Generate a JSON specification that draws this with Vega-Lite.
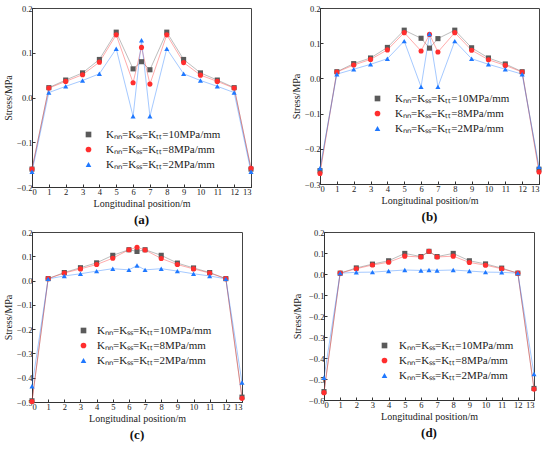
{
  "$schema": "https://vega.github.io/schema/vega-lite/v6.json",
  "padding": {"left": 3, "top": 3, "right": 3, "bottom": 0},
  "data": {
    "values": [
      {"p":"a","k":"10","x":0,"y":-0.16},{"p":"a","k":"10","x":1,"y":0.022},{"p":"a","k":"10","x":2,"y":0.039},{"p":"a","k":"10","x":3,"y":0.055},{"p":"a","k":"10","x":4,"y":0.085},{"p":"a","k":"10","x":5,"y":0.146},{"p":"a","k":"10","x":6,"y":0.064},{"p":"a","k":"10","x":6.5,"y":0.080},{"p":"a","k":"10","x":7,"y":0.062},{"p":"a","k":"10","x":8,"y":0.146},{"p":"a","k":"10","x":9,"y":0.085},{"p":"a","k":"10","x":10,"y":0.055},{"p":"a","k":"10","x":11,"y":0.039},{"p":"a","k":"10","x":12,"y":0.022},{"p":"a","k":"10","x":13,"y":-0.16},
      {"p":"a","k":"8","x":0,"y":-0.16},{"p":"a","k":"8","x":1,"y":0.021},{"p":"a","k":"8","x":2,"y":0.036},{"p":"a","k":"8","x":3,"y":0.051},{"p":"a","k":"8","x":4,"y":0.079},{"p":"a","k":"8","x":5,"y":0.140},{"p":"a","k":"8","x":6,"y":0.033},{"p":"a","k":"8","x":6.5,"y":0.112},{"p":"a","k":"8","x":7,"y":0.030},{"p":"a","k":"8","x":8,"y":0.140},{"p":"a","k":"8","x":9,"y":0.078},{"p":"a","k":"8","x":10,"y":0.050},{"p":"a","k":"8","x":11,"y":0.036},{"p":"a","k":"8","x":12,"y":0.021},{"p":"a","k":"8","x":13,"y":-0.158},
      {"p":"a","k":"2","x":0,"y":-0.166},{"p":"a","k":"2","x":1,"y":0.011},{"p":"a","k":"2","x":2,"y":0.025},{"p":"a","k":"2","x":3,"y":0.038},{"p":"a","k":"2","x":4,"y":0.053},{"p":"a","k":"2","x":5,"y":0.109},{"p":"a","k":"2","x":6,"y":-0.042},{"p":"a","k":"2","x":6.5,"y":0.128},{"p":"a","k":"2","x":7,"y":-0.042},{"p":"a","k":"2","x":8,"y":0.109},{"p":"a","k":"2","x":9,"y":0.053},{"p":"a","k":"2","x":10,"y":0.038},{"p":"a","k":"2","x":11,"y":0.025},{"p":"a","k":"2","x":12,"y":0.011},{"p":"a","k":"2","x":13,"y":-0.166},
      {"p":"b","k":"10","x":0,"y":-0.262},{"p":"b","k":"10","x":1,"y":0.019},{"p":"b","k":"10","x":2,"y":0.042},{"p":"b","k":"10","x":3,"y":0.058},{"p":"b","k":"10","x":4,"y":0.088},{"p":"b","k":"10","x":5,"y":0.137},{"p":"b","k":"10","x":6,"y":0.114},{"p":"b","k":"10","x":6.5,"y":0.086},{"p":"b","k":"10","x":7,"y":0.113},{"p":"b","k":"10","x":8,"y":0.137},{"p":"b","k":"10","x":9,"y":0.087},{"p":"b","k":"10","x":10,"y":0.058},{"p":"b","k":"10","x":11,"y":0.041},{"p":"b","k":"10","x":12,"y":0.019},{"p":"b","k":"10","x":13,"y":-0.258},
      {"p":"b","k":"8","x":0,"y":-0.27},{"p":"b","k":"8","x":1,"y":0.018},{"p":"b","k":"8","x":2,"y":0.038},{"p":"b","k":"8","x":3,"y":0.054},{"p":"b","k":"8","x":4,"y":0.081},{"p":"b","k":"8","x":5,"y":0.130},{"p":"b","k":"8","x":6,"y":0.078},{"p":"b","k":"8","x":6.5,"y":0.125},{"p":"b","k":"8","x":7,"y":0.075},{"p":"b","k":"8","x":8,"y":0.130},{"p":"b","k":"8","x":9,"y":0.080},{"p":"b","k":"8","x":10,"y":0.053},{"p":"b","k":"8","x":11,"y":0.037},{"p":"b","k":"8","x":12,"y":0.018},{"p":"b","k":"8","x":13,"y":-0.266},
      {"p":"b","k":"2","x":0,"y":-0.255},{"p":"b","k":"2","x":1,"y":0.012},{"p":"b","k":"2","x":2,"y":0.026},{"p":"b","k":"2","x":3,"y":0.040},{"p":"b","k":"2","x":4,"y":0.056},{"p":"b","k":"2","x":5,"y":0.106},{"p":"b","k":"2","x":6,"y":-0.024},{"p":"b","k":"2","x":6.5,"y":0.126},{"p":"b","k":"2","x":7,"y":-0.024},{"p":"b","k":"2","x":8,"y":0.106},{"p":"b","k":"2","x":9,"y":0.056},{"p":"b","k":"2","x":10,"y":0.040},{"p":"b","k":"2","x":11,"y":0.026},{"p":"b","k":"2","x":12,"y":0.012},{"p":"b","k":"2","x":13,"y":-0.251},
      {"p":"c","k":"10","x":0,"y":-0.495},{"p":"c","k":"10","x":1,"y":0.008},{"p":"c","k":"10","x":2,"y":0.033},{"p":"c","k":"10","x":3,"y":0.053},{"p":"c","k":"10","x":4,"y":0.073},{"p":"c","k":"10","x":5,"y":0.104},{"p":"c","k":"10","x":6,"y":0.127},{"p":"c","k":"10","x":6.5,"y":0.120},{"p":"c","k":"10","x":7,"y":0.127},{"p":"c","k":"10","x":8,"y":0.104},{"p":"c","k":"10","x":9,"y":0.072},{"p":"c","k":"10","x":10,"y":0.052},{"p":"c","k":"10","x":11,"y":0.033},{"p":"c","k":"10","x":12,"y":0.008},{"p":"c","k":"10","x":13,"y":-0.48},
      {"p":"c","k":"8","x":0,"y":-0.498},{"p":"c","k":"8","x":1,"y":0.008},{"p":"c","k":"8","x":2,"y":0.031},{"p":"c","k":"8","x":3,"y":0.048},{"p":"c","k":"8","x":4,"y":0.066},{"p":"c","k":"8","x":5,"y":0.092},{"p":"c","k":"8","x":6,"y":0.127},{"p":"c","k":"8","x":6.5,"y":0.137},{"p":"c","k":"8","x":7,"y":0.126},{"p":"c","k":"8","x":8,"y":0.091},{"p":"c","k":"8","x":9,"y":0.066},{"p":"c","k":"8","x":10,"y":0.048},{"p":"c","k":"8","x":11,"y":0.031},{"p":"c","k":"8","x":12,"y":0.008},{"p":"c","k":"8","x":13,"y":-0.485},
      {"p":"c","k":"2","x":0,"y":-0.435},{"p":"c","k":"2","x":1,"y":0.007},{"p":"c","k":"2","x":2,"y":0.019},{"p":"c","k":"2","x":3,"y":0.028},{"p":"c","k":"2","x":4,"y":0.039},{"p":"c","k":"2","x":5,"y":0.049},{"p":"c","k":"2","x":6,"y":0.044},{"p":"c","k":"2","x":6.5,"y":0.062},{"p":"c","k":"2","x":7,"y":0.044},{"p":"c","k":"2","x":8,"y":0.049},{"p":"c","k":"2","x":9,"y":0.039},{"p":"c","k":"2","x":10,"y":0.028},{"p":"c","k":"2","x":11,"y":0.019},{"p":"c","k":"2","x":12,"y":0.007},{"p":"c","k":"2","x":13,"y":-0.42},
      {"p":"d","k":"10","x":0,"y":-0.56},{"p":"d","k":"10","x":1,"y":0.004},{"p":"d","k":"10","x":2,"y":0.029},{"p":"d","k":"10","x":3,"y":0.047},{"p":"d","k":"10","x":4,"y":0.063},{"p":"d","k":"10","x":5,"y":0.098},{"p":"d","k":"10","x":6,"y":0.083},{"p":"d","k":"10","x":6.5,"y":0.108},{"p":"d","k":"10","x":7,"y":0.083},{"p":"d","k":"10","x":8,"y":0.098},{"p":"d","k":"10","x":9,"y":0.063},{"p":"d","k":"10","x":10,"y":0.048},{"p":"d","k":"10","x":11,"y":0.028},{"p":"d","k":"10","x":12,"y":0.004},{"p":"d","k":"10","x":13,"y":-0.545},
      {"p":"d","k":"8","x":0,"y":-0.565},{"p":"d","k":"8","x":1,"y":0.004},{"p":"d","k":"8","x":2,"y":0.025},{"p":"d","k":"8","x":3,"y":0.043},{"p":"d","k":"8","x":4,"y":0.056},{"p":"d","k":"8","x":5,"y":0.085},{"p":"d","k":"8","x":6,"y":0.081},{"p":"d","k":"8","x":6.5,"y":0.108},{"p":"d","k":"8","x":7,"y":0.081},{"p":"d","k":"8","x":8,"y":0.085},{"p":"d","k":"8","x":9,"y":0.055},{"p":"d","k":"8","x":10,"y":0.042},{"p":"d","k":"8","x":11,"y":0.025},{"p":"d","k":"8","x":12,"y":0.004},{"p":"d","k":"8","x":13,"y":-0.548},
      {"p":"d","k":"2","x":0,"y":-0.494},{"p":"d","k":"2","x":1,"y":0.004},{"p":"d","k":"2","x":2,"y":0.008},{"p":"d","k":"2","x":3,"y":0.009},{"p":"d","k":"2","x":4,"y":0.014},{"p":"d","k":"2","x":5,"y":0.019},{"p":"d","k":"2","x":6,"y":0.017},{"p":"d","k":"2","x":6.5,"y":0.019},{"p":"d","k":"2","x":7,"y":0.017},{"p":"d","k":"2","x":8,"y":0.019},{"p":"d","k":"2","x":9,"y":0.014},{"p":"d","k":"2","x":10,"y":0.009},{"p":"d","k":"2","x":11,"y":0.008},{"p":"d","k":"2","x":12,"y":0.004},{"p":"d","k":"2","x":13,"y":-0.476}
    ]
  },
  "spacing": 0,
  "resolve": {"scale": {"color": "independent", "shape": "independent"}, "legend": {"color": "independent", "shape": "independent"}},
  "vconcat": [
    {
      "spacing": 36,
      "resolve": {"scale": {"color": "independent", "shape": "independent"}, "legend": {"color": "independent", "shape": "independent"}},
      "hconcat": [
        {
          "width": 219, "height": 179,
          "transform": [{"filter": "datum.p === 'a'"}],
          "title": {"text": "(a)", "orient": "bottom", "anchor": "middle", "offset": 5},
          "encoding": {
            "x": {"field": "x", "type": "quantitative", "scale": {"domain": [0, 13], "nice": false}, "axis": {"values": [0,1,2,3,4,5,6,7,8,9,10,11,12,13], "title": "Longitudinal position/m"}},
            "y": {"field": "y", "type": "quantitative", "scale": {"domain": [-0.2, 0.2], "nice": false, "zero": false}, "axis": {"values": [-0.2,-0.1,0,0.1,0.2], "format": ".1f", "title": "Stress/MPa"}},
            "color": {"field": "k", "type": "nominal", "scale": {"domain": ["10","8","2"], "range": ["#5a5a5a","#ff2e2e","#1f78ff"]},
              "legend": {"orient": "none", "legendX": 51, "legendY": 121, "labelOffset": 12, "labelExpr": "'Kₙₙ=Kₛₛ=Kₜₜ=' + datum.label + 'MPa/mm'"}}
          },
          "layer": [
            {"mark": {"type": "line", "strokeWidth": 1, "opacity": 0.4}},
            {"mark": {"type": "point", "filled": true, "size": 26, "opacity": 1},
             "encoding": {"shape": {"field": "k", "type": "nominal", "scale": {"domain": ["10","8","2"], "range": ["square","circle","triangle-up"]}, "legend": null}}}
          ]
        },
        {
          "width": 219, "height": 176,
          "transform": [{"filter": "datum.p === 'b'"}],
          "title": {"text": "(b)", "orient": "bottom", "anchor": "middle", "offset": 5},
          "encoding": {
            "x": {"field": "x", "type": "quantitative", "scale": {"domain": [0, 13], "nice": false}, "axis": {"values": [0,1,2,3,4,5,6,7,8,9,10,11,12,13], "title": "Longitudinal position/m"}},
            "y": {"field": "y", "type": "quantitative", "scale": {"domain": [-0.3, 0.2], "nice": false, "zero": false}, "axis": {"values": [-0.3,-0.2,-0.1,0,0.1,0.2], "format": ".1f", "title": "Stress/MPa"}},
            "color": {"field": "k", "type": "nominal", "scale": {"domain": ["10","8","2"], "range": ["#5a5a5a","#ff2e2e","#1f78ff"]},
              "legend": {"orient": "none", "legendX": 52, "legendY": 85, "labelOffset": 12, "labelExpr": "'Kₙₙ=Kₛₛ=Kₜₜ=' + datum.label + 'MPa/mm'"}}
          },
          "layer": [
            {"mark": {"type": "line", "strokeWidth": 1, "opacity": 0.4}},
            {"mark": {"type": "point", "filled": true, "size": 26, "opacity": 1},
             "encoding": {"shape": {"field": "k", "type": "nominal", "scale": {"domain": ["10","8","2"], "range": ["square","circle","triangle-up"]}, "legend": null}}}
          ]
        }
      ]
    },
    {
      "spacing": 46,
      "resolve": {"scale": {"color": "independent", "shape": "independent"}, "legend": {"color": "independent", "shape": "independent"}},
      "hconcat": [
        {
          "width": 210, "height": 170,
          "transform": [{"filter": "datum.p === 'c'"}],
          "title": {"text": "(c)", "orient": "bottom", "anchor": "middle", "offset": 5},
          "encoding": {
            "x": {"field": "x", "type": "quantitative", "scale": {"domain": [0, 13], "nice": false}, "axis": {"values": [0,1,2,3,4,5,6,7,8,9,10,11,12,13], "title": "Longitudinal position/m"}},
            "y": {"field": "y", "type": "quantitative", "scale": {"domain": [-0.5, 0.2], "nice": false, "zero": false}, "axis": {"values": [-0.5,-0.4,-0.3,-0.2,-0.1,0,0.1,0.2], "format": ".1f", "title": "Stress/MPa"}},
            "color": {"field": "k", "type": "nominal", "scale": {"domain": ["10","8","2"], "range": ["#5a5a5a","#ff2e2e","#1f78ff"]},
              "legend": {"orient": "none", "legendX": 46, "legendY": 93, "labelOffset": 8, "labelExpr": "'Kₙₙ=Kₛₛ=Kₜₜ=' + datum.label + 'MPa/mm'"}}
          },
          "layer": [
            {"mark": {"type": "line", "strokeWidth": 1, "opacity": 0.4}},
            {"mark": {"type": "point", "filled": true, "size": 26, "opacity": 1},
             "encoding": {"shape": {"field": "k", "type": "nominal", "scale": {"domain": ["10","8","2"], "range": ["square","circle","triangle-up"]}, "legend": null}}}
          ]
        },
        {
          "width": 210, "height": 168,
          "transform": [{"filter": "datum.p === 'd'"}],
          "title": {"text": "(d)", "orient": "bottom", "anchor": "middle", "offset": 5},
          "encoding": {
            "x": {"field": "x", "type": "quantitative", "scale": {"domain": [0, 13], "nice": false}, "axis": {"values": [0,1,2,3,4,5,6,7,8,9,10,11,12,13], "title": "Longitudinal position/m"}},
            "y": {"field": "y", "type": "quantitative", "scale": {"domain": [-0.6, 0.2], "nice": false, "zero": false}, "axis": {"values": [-0.6,-0.5,-0.4,-0.3,-0.2,-0.1,0,0.1,0.2], "format": ".1f", "title": "Stress/MPa", "titlePadding": 6}},
            "color": {"field": "k", "type": "nominal", "scale": {"domain": ["10","8","2"], "range": ["#5a5a5a","#ff2e2e","#1f78ff"]},
              "legend": {"orient": "none", "legendX": 55, "legendY": 108, "labelOffset": 9, "labelExpr": "'Kₙₙ=Kₛₛ=Kₜₜ=' + datum.label + 'MPa/mm'"}}
          },
          "layer": [
            {"mark": {"type": "line", "strokeWidth": 1, "opacity": 0.4}},
            {"mark": {"type": "point", "filled": true, "size": 26, "opacity": 1},
             "encoding": {"shape": {"field": "k", "type": "nominal", "scale": {"domain": ["10","8","2"], "range": ["square","circle","triangle-up"]}, "legend": null}}}
          ]
        }
      ]
    }
  ],
  "config": {
    "font": "Liberation Serif",
    "view": {"stroke": "#444", "strokeWidth": 1},
    "axis": {"grid": false, "domainColor": "#333", "tickColor": "#333", "tickSize": -3, "labelPadding": 3, "labelFont": "Liberation Serif", "labelFontSize": 8.5, "labelColor": "#222", "titleFont": "Liberation Serif", "titleFontSize": 10, "titleFontWeight": "normal", "titleColor": "#222", "titlePadding": 3},
    "title": {"font": "Liberation Serif", "fontSize": 13, "fontWeight": "bold", "color": "#111"},
    "legend": {"title": null, "labelFont": "Liberation Serif", "labelFontSize": 11, "labelColor": "#222", "symbolSize": 32, "symbolOpacity": 1, "symbolStrokeWidth": 0, "rowPadding": 3, "padding": 0}
  }
}
